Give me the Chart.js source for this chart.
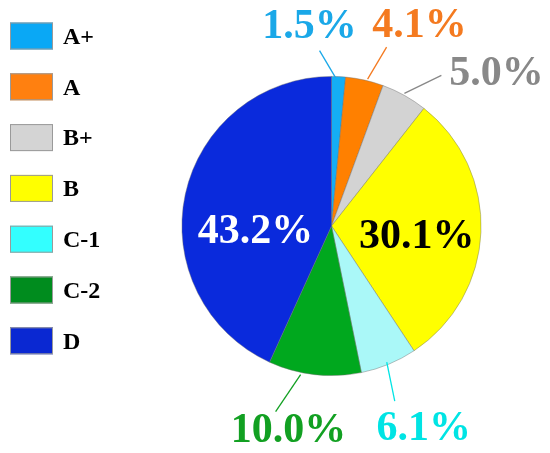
<!DOCTYPE html>
<html>
<head>
<meta charset="utf-8">
<script src="https://cdn.jsdelivr.net/npm/chart.js@4/dist/chart.umd.min.js"></script>
<style>
  html, body { margin: 0; padding: 0; background: #ffffff; }
  #wrap { width: 550px; height: 453px; }
</style>
</head>
<body>
<div id="wrap"><canvas id="c" width="550" height="453"></canvas></div>
<script>
// ---- data ----
const categories = ['A+', 'A', 'B+', 'B', 'C-1', 'C-2', 'D'];
const shares = [1.5, 4.1, 5.0, 30.1, 6.1, 10.0, 43.2];

// ---- styles ----
const sliceColors  = ['#14aef5', '#ff8000', '#d3d3d3', '#ffff00', '#aaf8f8', '#00a81e', '#0a2adc'];
const legendColors = ['#0aa8f5', '#ff8010', '#d4d4d4', '#ffff00', '#33ffff', '#008c1e', '#0a28d2'];
const labelColors  = ['#1aa8e8', '#f47a20', '#888888', '#000000', '#00e4e4', '#12a022', '#ffffff'];
// label placement relative to the slice's outer-edge midpoint (outside) or the centre (inside)
const labelLayout = [
  { out: true, start: [-3, 1],  end: [-19, -26], text: [-29, -39] },
  { out: true, start: [3, -1],  end: [22, -33],  text: [55, -43] },
  { out: true, start: [0, -2],  end: [37, -20],  text: [92, -10] },
  { out: false, r: 0.57, text: [0, 19] },
  { out: true, start: [-2, -2], end: [6, 37],    text: [35, 76] },
  { out: true, start: [-14, 0], end: [-39, 37],  text: [-26, 67] },
  { out: false, r: 0.52, text: [0, 33] }
];

const labelFont = 'bold 42px "Liberation Serif", "Times New Roman", serif';
const legendFont = 'bold 24px "Liberation Serif", "Times New Roman", serif';

const customLegend = {
  id: 'customLegend',
  afterDraw(chart) {
    const ctx = chart.ctx;
    ctx.save();
    chart.data.labels.forEach((lab, i) => {
      const top = 22.5 + i * 50.8;
      ctx.fillStyle = legendColors[i];
      ctx.fillRect(10, top, 43, 27);
      ctx.strokeStyle = '#9a9a9a';
      ctx.lineWidth = 1;
      ctx.strokeRect(10.5, top + 0.5, 42, 26);
      ctx.fillStyle = '#000000';
      ctx.font = legendFont;
      ctx.textAlign = 'left';
      ctx.textBaseline = 'middle';
      ctx.fillText(lab, 63, top + 15);
    });
    ctx.restore();
  }
};

const sliceLabels = {
  id: 'sliceLabels',
  afterDatasetsDraw(chart) {
    const ctx = chart.ctx;
    const meta = chart.getDatasetMeta(0);
    ctx.save();
    ctx.font = labelFont;
    ctx.textAlign = 'center';
    ctx.textBaseline = 'alphabetic';
    meta.data.forEach((arc, i) => {
      const p = arc.getProps(['x', 'y', 'startAngle', 'endAngle', 'outerRadius'], true);
      const mid = (p.startAngle + p.endAngle) / 2;
      const L = labelLayout[i];
      const txt = chart.data.datasets[0].data[i].toFixed(1) + '%';
      ctx.fillStyle = labelColors[i];
      if (L.out) {
        const ex = p.x + Math.cos(mid) * p.outerRadius;
        const ey = p.y + Math.sin(mid) * p.outerRadius;
        ctx.strokeStyle = labelColors[i];
        ctx.lineWidth = 1.3;
        ctx.beginPath();
        ctx.moveTo(ex + L.start[0], ey + L.start[1]);
        ctx.lineTo(ex + L.end[0], ey + L.end[1]);
        ctx.stroke();
        ctx.fillText(txt, ex + L.text[0], ey + L.text[1]);
      } else {
        const tx = p.x + Math.cos(mid) * p.outerRadius * L.r;
        const ty = p.y + Math.sin(mid) * p.outerRadius * L.r;
        ctx.fillText(txt, tx + L.text[0], ty + L.text[1]);
      }
    });
    ctx.restore();
  }
};

new Chart(document.getElementById('c'), {
  type: 'pie',
  data: {
    labels: categories,
    datasets: [{
      data: shares,
      backgroundColor: sliceColors,
      borderColor: 'rgba(110,110,110,0.55)',
      borderWidth: 0.8
    }]
  },
  options: {
    responsive: false,
    animation: false,
    layout: { padding: { left: 181.5, right: 68.5, top: 76, bottom: 77 } },
    plugins: {
      legend: { display: false },
      tooltip: { enabled: false }
    }
  },
  plugins: [customLegend, sliceLabels]
});
</script>
</body>
</html>
